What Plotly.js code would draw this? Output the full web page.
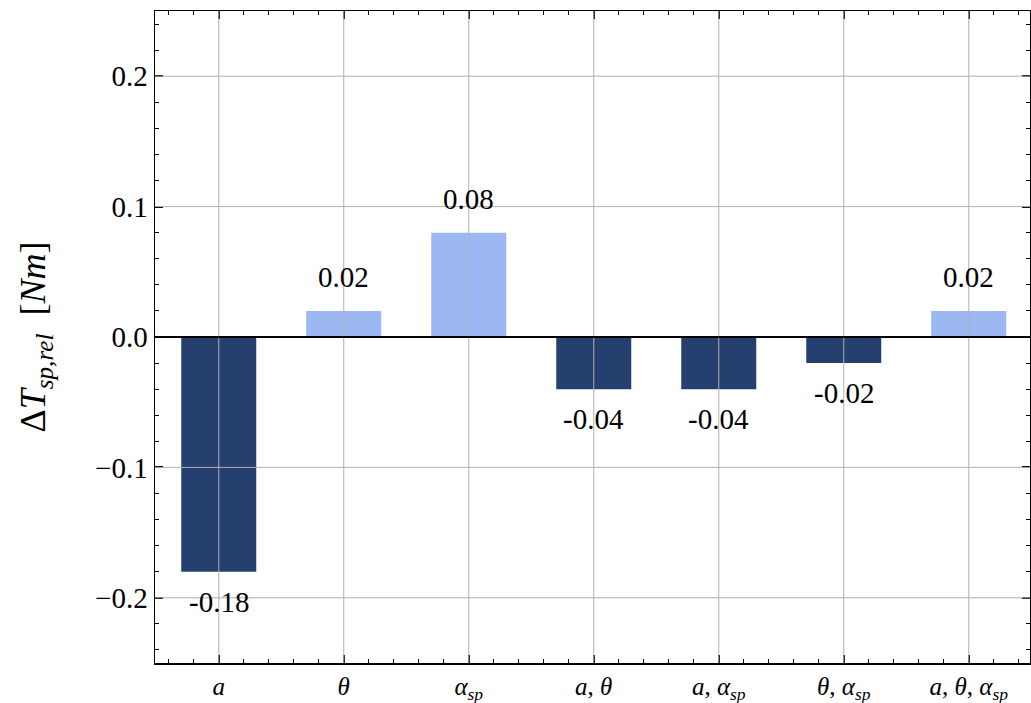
<!DOCTYPE html>
<html>
<head>
<meta charset="utf-8">
<script src="https://cdn.plot.ly/plotly-3.0.1.min.js"></script>
<style>html,body{margin:0;padding:0;background:#fff;}#chart{width:1031px;height:703px;}</style>
</head>
<body>
<div id="chart"></div>
<script>
// Data
const categories = ["<i>a</i>", "<i>θ</i>", "<i>α</i><sub><i>sp</i></sub>", "<i>a</i>, <i>θ</i>", "<i>a</i>, <i>α</i><sub><i>sp</i></sub>", "<i>θ</i>, <i>α</i><sub><i>sp</i></sub>", "<i>a</i>, <i>θ</i>, <i>α</i><sub><i>sp</i></sub>"];
const values = [-0.18, 0.02, 0.08, -0.04, -0.04, -0.02, 0.02];
const valueLabels = ["-0.18", "0.02", "0.08", "-0.04", "-0.04", "-0.02", "0.02"];
const yTicks = [-0.2, -0.1, 0.0, 0.1, 0.2];

const NEG = "#253f6f", POS = "#9cb8f3";
const FONT = "Liberation Serif, Times New Roman, serif";
const xPos = categories.map((_, i) => i);

const trace = {
  type: "bar",
  x: xPos,
  y: values,
  width: 0.6,
  marker: {color: values.map(v => v < 0 ? NEG : POS), line: {width: 0}},
  hoverinfo: "skip"
};

const annotations = values.map((v, i) => ({
  x: i, y: v, xref: "x", yref: "y",
  text: valueLabels[i], showarrow: false,
  yanchor: "middle", xanchor: "center",
  yshift: v >= 0 ? 34 : -30,
  font: {family: FONT, size: 29, color: "#000"}
}));

const shapes = [];
xPos.forEach(i => shapes.push({type: "line", xref: "x", yref: "paper", x0: i, x1: i, y0: 0, y1: 1, layer: "above", line: {color: "#b0b0b0", width: 1}}));
yTicks.filter(t => t !== 0).forEach(t => shapes.push({type: "line", xref: "paper", yref: "y", x0: 0, x1: 1, y0: t, y1: t, layer: "above", line: {color: "#b0b0b0", width: 1}}));
shapes.push({type: "line", xref: "paper", yref: "y", x0: 0, x1: 1, y0: 0, y1: 0, layer: "above", line: {color: "#000", width: 2}});

const layout = {
  width: 1031, height: 703,
  margin: {l: 155, r: 1, t: 11, b: 40},
  paper_bgcolor: "#fff", plot_bgcolor: "#fff",
  showlegend: false,
  font: {family: FONT, size: 29, color: "#000"},
  xaxis: {
    range: [-0.51, 6.49],
    tickmode: "array", tickvals: xPos, ticktext: categories,
    ticks: "inside", ticklen: 8, tickwidth: 2, tickcolor: "#000",
    showgrid: false, zeroline: false,
    showline: true, linecolor: "#000", linewidth: 1.5, mirror: "ticks",
    tickfont: {family: FONT, size: 25},
    minor: {tickmode: "linear", tick0: 0, dtick: 0.2, ticks: "inside", ticklen: 4, tickwidth: 1, tickcolor: "#000", showgrid: false}
  },
  yaxis: {
    range: [-0.25, 0.25],
    tickmode: "array", tickvals: yTicks, tickformat: ".1f",
    ticks: "inside", ticklen: 8, tickwidth: 2, tickcolor: "#000",
    showgrid: false, zeroline: false,
    showline: true, linecolor: "#000", linewidth: 1.5, mirror: "ticks",
    tickfont: {family: FONT, size: 29},
    minor: {tickmode: "linear", tick0: 0, dtick: 0.02, ticks: "inside", ticklen: 4, tickwidth: 1, tickcolor: "#000", showgrid: false},
    title: {text: "Δ<i>T</i><sub><i>sp,rel</i></sub>  [<i>Nm</i>]", font: {family: FONT, size: 36}, standoff: 38}
  },
  bargap: 0.4,
  shapes: shapes,
  annotations: annotations
};

Plotly.newPlot("chart", [trace], layout, {displayModeBar: false, staticPlot: true});
</script>
</body>
</html>
